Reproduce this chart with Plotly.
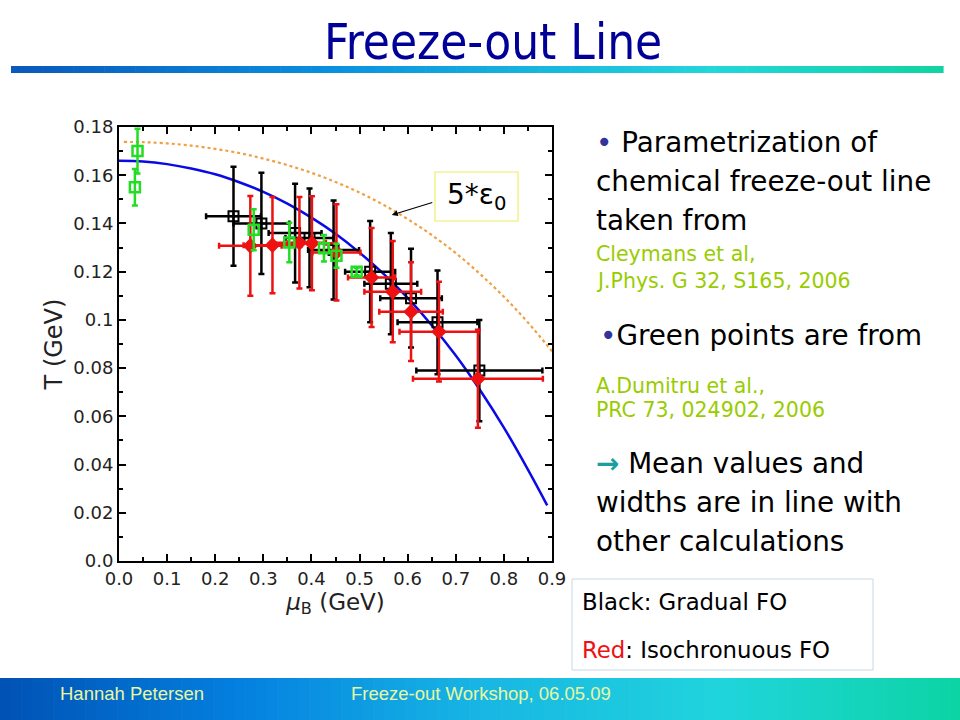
import plotly.graph_objects as go

# ---------------- data ----------------
mu_curve = [0.0, 0.05, 0.10, 0.15, 0.20, 0.25, 0.30, 0.35, 0.40, 0.45, 0.50,
            0.55, 0.60, 0.65, 0.70, 0.75, 0.80, 0.85, 0.89]
T_param = [0.166, 0.1657, 0.1646, 0.1628, 0.1604, 0.1571, 0.1531, 0.1482, 0.1424,
           0.1357, 0.1279, 0.1191, 0.1091, 0.0978, 0.0852, 0.0710, 0.0553, 0.0379, 0.0231]

mu_eps = [0.01, 0.05, 0.10, 0.15, 0.20, 0.25, 0.30, 0.35, 0.40, 0.45, 0.50,
          0.55, 0.60, 0.65, 0.70, 0.75, 0.80, 0.85, 0.90]
T_eps = [0.1738, 0.1737, 0.1732, 0.1723, 0.1709, 0.1692, 0.1669, 0.1642, 0.1610,
         0.1572, 0.1528, 0.1477, 0.1418, 0.1352, 0.1277, 0.1191, 0.1096, 0.0989, 0.0870]

mu_black = [0.238, 0.296, 0.366, 0.396, 0.446, 0.522, 0.565, 0.607, 0.662, 0.749]
T_black = [0.143, 0.140, 0.136, 0.134, 0.129, 0.120, 0.115, 0.109, 0.099, 0.079]
dmu_black = [0.057, 0.058, 0.055, 0.050, 0.053, 0.052, 0.055, 0.064, 0.083, 0.131]
dT_black = [0.0205, 0.021, 0.0205, 0.0205, 0.0205, 0.021, 0.021, 0.0205, 0.0215, 0.021]

mu_red = [0.273, 0.319, 0.375, 0.401, 0.452, 0.525, 0.569, 0.607, 0.665, 0.746]
T_red = [0.1307, 0.131, 0.132, 0.1318, 0.128, 0.1176, 0.1117, 0.1034, 0.0951, 0.0756]
dmu_red = [0.065, 0.060, 0.055, 0.050, 0.050, 0.049, 0.059, 0.066, 0.082, 0.135]
dT_red = [0.0207, 0.020, 0.019, 0.0195, 0.020, 0.0205, 0.021, 0.0205, 0.0207, 0.0203]

mu_green = [0.033, 0.0385, 0.280, 0.354, 0.426, 0.452, 0.494]
T_green = [0.155, 0.170, 0.1374, 0.1321, 0.1297, 0.1266, 0.120]
dT_green = [0.0076, 0.0093, 0.0085, 0.0082, 0.0055, 0.005, 0.0015]

x_ticks = [0.0, 0.1, 0.2, 0.3, 0.4, 0.5, 0.6, 0.7, 0.8, 0.9]
x_ticklabels = ["0.0", "0.1", "0.2", "0.3", "0.4", "0.5", "0.6", "0.7", "0.8", "0.9"]
y_ticks = [0.0, 0.02, 0.04, 0.06, 0.08, 0.10, 0.12, 0.14, 0.16, 0.18]
y_ticklabels = ["0.0", "0.02", "0.04", "0.06", "0.08", "0.1", "0.12", "0.14", "0.16", "0.18"]

# ---------------- layout geometry ----------------
W, H = 960, 720
L, R, T, B = 119, 552, 127, 561
PW, PH = R - L, B - T


def px(x):
    return (x - L) / PW


def py(y):
    return (B - y) / PH


def hex2rgb(h):
    h = h.lstrip("#")
    return tuple(int(h[i:i + 2], 16) for i in (0, 2, 4))


def interp(stops, t):
    for (t0, c0), (t1, c1) in zip(stops[:-1], stops[1:]):
        if t0 <= t <= t1:
            f = (t - t0) / (t1 - t0) if t1 > t0 else 0
            a, b = hex2rgb(c0), hex2rgb(c1)
            return "rgb(%d,%d,%d)" % tuple(round(a[i] + (b[i] - a[i]) * f) for i in range(3))
    return stops[-1][1]


def gradient_bar(x0, x1, y0, y1, stops, n=90):
    shapes = []
    step = (x1 - x0) / n
    for i in range(n):
        c = interp(stops, (i + 0.5) / n)
        shapes.append(dict(type="rect", xref="paper", yref="paper",
                           x0=px(x0 + i * step), x1=px(x0 + (i + 1) * step + 0.6),
                           y0=py(y1), y1=py(y0), fillcolor=c, line=dict(width=0),
                           layer="below"))
    return shapes


fig = go.Figure()

fig.add_trace(go.Scatter(x=mu_eps, y=T_eps, mode="lines",
                         line=dict(color="#f0a040", width=2.2, dash="dot"),
                         line_shape="spline", showlegend=False))
fig.add_trace(go.Scatter(x=mu_curve, y=T_param, mode="lines",
                         line=dict(color="#0a0ae6", width=2.5),
                         line_shape="spline", showlegend=False))

fig.add_trace(go.Scatter(
    x=mu_black, y=T_black, mode="markers",
    marker=dict(symbol="square-cross-open", size=10, color="black", line=dict(width=2, color="black")),
    error_x=dict(type="data", array=dmu_black, color="black", thickness=2.5, width=3),
    error_y=dict(type="data", array=dT_black, color="black", thickness=2.5, width=3),
    showlegend=False))

fig.add_trace(go.Scatter(
    x=mu_red, y=T_red, mode="markers",
    marker=dict(symbol="diamond", size=12, color="#ee1111"),
    error_x=dict(type="data", array=dmu_red, color="#ee1111", thickness=2.5, width=3),
    error_y=dict(type="data", array=dT_red, color="#ee1111", thickness=2.5, width=3),
    showlegend=False))

fig.add_trace(go.Scatter(
    x=mu_green, y=T_green, mode="markers",
    marker=dict(symbol="square-open", size=10, color="#22dd22", line=dict(width=2.5, color="#22dd22")),
    error_y=dict(type="data", array=dT_green, color="#22dd22", thickness=2.5, width=3),
    showlegend=False))

axis_common = dict(showline=True, linecolor="black", linewidth=2, mirror="ticks",
                   ticks="inside", ticklen=7, tickwidth=2, tickcolor="black",
                   showgrid=False, zeroline=False,
                   tickfont=dict(family="DejaVu Sans", size=18, color="#222"))

fig.update_xaxes(range=[0, 0.9], tickvals=x_ticks, ticktext=x_ticklabels,
                 minor=dict(ticks="inside", ticklen=4, tickwidth=1.5, tickcolor="black", dtick=0.05,
                            tick0=0, showgrid=False),
                 title=dict(text="<i>μ</i><sub>B</sub> (GeV)",
                            font=dict(family="DejaVu Sans", size=23, color="#222"), standoff=2),
                 **axis_common)
fig.update_yaxes(range=[0, 0.18], tickvals=y_ticks, ticktext=y_ticklabels,
                 minor=dict(ticks="inside", ticklen=4, tickwidth=1.5, tickcolor="black", dtick=0.01,
                            tick0=0, showgrid=False),
                 title=dict(text="T (GeV)", font=dict(family="DejaVu Sans", size=24, color="#222"),
                            standoff=4),
                 **axis_common)

shapes = []
shapes += gradient_bar(11, 943, 66, 73,
                       [(0, "#0a58bc"), (0.35, "#0a90e0"), (0.75, "#22d6dc"), (1, "#10d4a0")])
shapes += gradient_bar(0, 960, 678, 720,
                       [(0, "#0052b4"), (0.25, "#0480e0"), (0.5, "#18b6e4"), (0.75, "#20d4dc"),
                        (1, "#0cd4a4")])
# 5*eps0 box
shapes.append(dict(type="rect", xref="paper", yref="paper", x0=px(435), x1=px(518),
                   y0=py(221), y1=py(172), line=dict(color="#eeee66", width=1.2),
                   fillcolor="white"))
# legend box
shapes.append(dict(type="rect", xref="paper", yref="paper", x0=px(572), x1=px(873),
                   y0=py(670), y1=py(579), line=dict(color="#c8d8e4", width=1),
                   fillcolor="white"))

ann = []


def text(x, y, s, size, color="black", family="DejaVu Sans", anchor="left"):
    ann.append(dict(x=px(x), y=py(y), xref="paper", yref="paper", text=s, showarrow=False,
                    xanchor=anchor, yanchor="middle",
                    font=dict(family=family, size=size, color=color)))


text(493, 43, "Freeze-out Line", 49, "#000099", family="DejaVu Sans Condensed", anchor="center")

bullet = "<span style='color:#333399'>•</span>"
text(594, 143, bullet + " Parametrization of", 27.8)
text(594, 182, "chemical freeze-out line", 27.8)
text(594, 220, "taken from", 27.8)
text(594, 254, "Cleymans et al,", 20.5, "#99cc00")
text(594, 281, "J.Phys. G 32, S165, 2006", 20.5, "#99cc00")
text(598, 335, bullet + "Green points are from", 27.8)
text(594, 386, "A.Dumitru et al.,", 20.5, "#99cc00")
text(594, 410, "PRC 73, 024902, 2006", 20.5, "#99cc00")
text(594, 463, "<span style='color:#1a9e9e'><b>→</b></span> Mean values and", 27.8)
text(594, 502, "widths are in line with", 27.8)
text(594, 541, "other calculations", 27.8)

text(580, 602, "Black: Gradual FO", 22.8)
text(580, 650, "<span style='color:#ee1111'>Red</span>: Isochronuous FO", 22.8)

text(58, 693, "Hannah Petersen", 18.5, "#e8f7a0", family="Liberation Sans")
text(349, 693, "Freeze-out Workshop, 06.05.09", 18.5, "#e8f7a0", family="Liberation Sans")

text(476, 196, "5*ε<sub>0</sub>", 28, anchor="center")

# arrow from box to the 5*eps0 curve
ann.append(dict(x=0.567, y=0.1435, xref="x", yref="y", ax=42, ay=-13, text="",
                showarrow=True, arrowhead=2, arrowsize=1, arrowwidth=1.2, arrowcolor="black",
                standoff=0))

fig.update_layout(width=W, height=H, margin=dict(l=L, r=W - R, t=T, b=H - B),
                  paper_bgcolor="white", plot_bgcolor="white",
                  shapes=shapes, annotations=ann, showlegend=False)

fig.write_html("out.html", config={"displayModeBar": False},
               post_script="document.body.style.margin='0px';document.body.style.overflow='hidden';")
